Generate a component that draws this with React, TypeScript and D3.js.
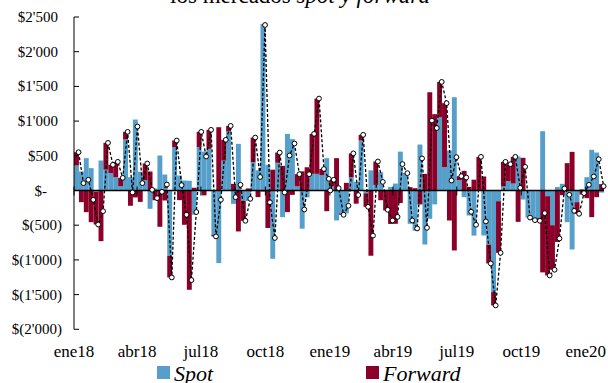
import React from "react";
import * as d3 from "d3";

const spot: number[] = [
  360, 274, 466, 322, -20, 432, 300, 250, 190, 60,
  735, 192, 1022, 270, 150, -264, 30, 504, 230, -940,
  624, 216, 144, 140, -350, 624, 560, 600, -640, -1046,
  430, 850, -192, 672, -150, -150, 408, 290, 2400, 370,
  -984, 400, -384, 816, 740, 60, -550, -100, 240, 240,
  220, 466, 60, -432, -330, -330, 190, 125, 720, -40,
  290, 80, 264, 10, 50, 100, 560, 240, -480, -580,
  662, -778, -408, -200, 1056, 336, 576, 1344, 150, -96,
  -360, -650, 0, -648, -780, -1464, -154, 58, 134, 100,
  490, -130, -390, -427, -400, 854, -82, -500, 50, 96,
  -456, -850, -168, 20, 192, 586, 547, -30,
];

const forward: number[] = [
  192, -168, -312, -456, -470, -730, 386, 120, 223, 122,
  110, -220, -100, -164, 239, 274, -140, -523, -144, -313,
  96, -139, -494, -1431, 40, 221, -70, 274, -22, 912,
  300, 81, 96, -590, -287, 30, 355, -95, -15, -540,
  300, 147, 355, -312, -63, 175, 276, 335, 576, 1085,
  90, -298, 94, 466, -20, 110, 345, -190, 82, -195,
  -940, 338, -140, -288, -482, -480, -180, 10, 48, 33,
  -200, 240, 1416, 1100, 509, 922, -432, -864, 56, 283,
  53, 156, 485, 202, -271, -192, -744, 355, 245, 385,
  -452, 471, 0, 0, -37, -1180, -1142, -642, -741, -67,
  394, 557, -168, -58, -110, -384, -96, 92,
];

// extra year-end observation on the net line
const yearEndValue = 0;

const yTicks: number[] = [2500, 2000, 1500, 1000, 500, 0, -500, -1000, -1500, -2000];
const xTickLabels: string[] = ["ene18", "abr18", "jul18", "oct18", "ene19", "abr19", "jul19", "oct19", "ene20"];
const seriesNames: string[] = ["Spot", "Forward"];
const colors: string[] = ["#559fca", "#8b0028"];

const W = 608;
const H = 383;
const start = new Date(Date.UTC(2018, 0, 1));

function fmt(v: number): string {
  if (v === 0) return "$-";
  const a = Math.abs(v);
  const s = a >= 1000 ? `${Math.floor(a / 1000)}'${String(a % 1000).padStart(3, "0")}` : String(a);
  return v < 0 ? `$(${s})` : `$${s}`;
}

export default function App() {
  const n = spot.length;
  const weekStart = d3.range(n + 1).map((i) => d3.utcDay.offset(start, 7 * i));
  const x = d3.scaleUtc().domain([start, weekStart[n]]).range([74, 604]);
  const y = d3.scaleLinear().domain([-2000, 2500]).range([329.3, 17]);

  const rows = spot.map((s, i) => ({ spot: s, forward: forward[i] }));
  const stack = d3
    .stack<{ spot: number; forward: number }>()
    .keys(["spot", "forward"])
    .offset(d3.stackOffsetDiverging);
  const layers = stack(rows);

  type Pt = { t: Date; v: number };
  const pts: Pt[] = rows.map((r, i) => ({
    t: new Date(weekStart[i + 1].getTime() - 12 * 3600 * 1000),
    v: r.spot + r.forward,
  }));
  const yearEnd: Pt = { t: new Date(Date.UTC(2019, 0, 1, 12)), v: yearEndValue };
  const linePts = [...pts, yearEnd].sort((a, b) => a.t.getTime() - b.t.getTime());
  const line = d3
    .line<Pt>()
    .x((d) => x(d.t))
    .y((d) => y(d.v));

  const tickDates = xTickLabels.map((_, k) => new Date(Date.UTC(2018 + Math.floor(k / 4), (k % 4) * 3, 1)));
  const y0 = y(0);

  return (
    <>
      <style>{`body{margin:0}`}</style>
      <svg width={W} height={H} style={{ display: "block", fontFamily: "'Liberation Serif', 'Times New Roman', serif" }}>
        <rect x={0} y={0} width={W} height={H} fill="#fff" />
        <text x={300} y={3} textAnchor="middle" fontSize={23} fill="#000">
          los mercados <tspan fontStyle="italic">spot y forward</tspan>
        </text>

        {layers.map((layer, k) => (
          <g key={k} fill={colors[k]}>
            {layer.map((d, i) => {
              const top = y(Math.max(d[0], d[1]));
              const bot = y(Math.min(d[0], d[1]));
              return (
                <rect
                  key={i}
                  x={x(weekStart[i])}
                  y={top}
                  width={x(weekStart[i + 1]) - x(weekStart[i])}
                  height={Math.max(0, bot - top)}
                />
              );
            })}
          </g>
        ))}

        {/* zero line and x ticks */}
        <line x1={74} x2={604} y1={y0} y2={y0} stroke="#000" strokeWidth={1.5} />
        {tickDates.map((t, k) => (
          <line key={k} x1={x(t)} x2={x(t)} y1={y0 - 4} y2={y0 + 5} stroke="#000" strokeWidth={1} />
        ))}

        {/* y axis */}
        <line x1={74} x2={74} y1={y(2500)} y2={y(-2000)} stroke="#000" strokeWidth={1} />
        {yTicks.map((v) => (
          <g key={v}>
            <line x1={74} x2={79} y1={y(v)} y2={y(v)} stroke="#000" strokeWidth={1} />
            <text
              x={v < 0 ? 62 : v === 0 ? 47 : 58}
              y={y(v) + 5}
              textAnchor="end"
              fontSize={15}
              fill="#000"
            >
              {fmt(v)}
            </text>
          </g>
        ))}

        {/* net line */}
        <path d={line(linePts) || ""} fill="none" stroke="#000" strokeWidth={1.3} strokeDasharray="3,2" />
        {linePts.map((p, i) => (
          <circle key={i} cx={x(p.t)} cy={y(p.v)} r={2.4} fill="#fff" stroke="#000" strokeWidth={1} />
        ))}

        {/* x labels */}
        {tickDates.map((t, k) => (
          <text key={k} x={x(t)} y={357} textAnchor="middle" fontSize={17} fill="#000">
            {xTickLabels[k]}
          </text>
        ))}

        {/* legend */}
        {seriesNames.map((s, k) => {
          const lx = k === 0 ? 157 : 366;
          return (
            <g key={s}>
              <rect x={lx} y={366} width={13} height={13} fill={colors[k]} />
              <text x={lx + 17} y={381} fontSize={22} fontStyle="italic" fill="#000">
                {s}
              </text>
            </g>
          );
        })}
      </svg>
    </>
  );
}
